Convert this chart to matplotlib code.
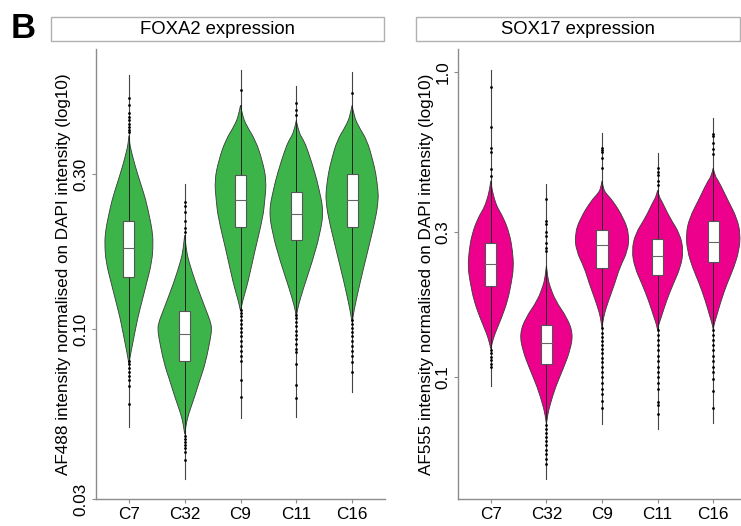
import numpy as np
import matplotlib.pyplot as plt
from matplotlib.patches import Rectangle, PathPatch
from matplotlib.path import Path

plt.rcParams['font.family'] = ['Liberation Sans', 'DejaVu Sans']

groups = ['C7', 'C32', 'C9', 'C11', 'C16']

# === FOXA2 (AF488) summary values ===
foxa2_lo = [0.050, 0.0346, 0.0532, 0.0536, 0.064]
foxa2_hi = [0.609, 0.281, 0.631, 0.563, 0.618]
foxa2_q1 = [0.145, 0.080, 0.206, 0.189, 0.206]
foxa2_med = [0.178, 0.097, 0.251, 0.226, 0.251]
foxa2_q3 = [0.215, 0.114, 0.298, 0.264, 0.300]

# violin outline: intensity levels and relative density at each level
foxa2_levels = {
    'C7': [0.395, 0.372, 0.356, 0.320, 0.281, 0.250, 0.221, 0.202, 0.184, 0.161, 0.139, 0.123, 0.109, 0.098, 0.088, 0.082, 0.078],
    'C32': [0.195, 0.175, 0.163, 0.139, 0.114, 0.104, 0.099, 0.0945, 0.0786, 0.0697, 0.0618, 0.0551, 0.051, 0.0475],
    'C9': [0.49, 0.455, 0.424, 0.382, 0.331, 0.287, 0.250, 0.221, 0.175, 0.139, 0.124, 0.118, 0.114],
    'C11': [0.44, 0.405, 0.382, 0.356, 0.302, 0.273, 0.232, 0.197, 0.163, 0.132, 0.1185, 0.113, 0.109],
    'C16': [0.49, 0.455, 0.424, 0.382, 0.331, 0.302, 0.268, 0.250, 0.221, 0.175, 0.139, 0.1185, 0.110, 0.105],
}
foxa2_density = {
    'C7': [0, 0.03, 0.08, 0.22, 0.43, 0.62, 0.76, 0.85, 0.89, 0.84, 0.65, 0.49, 0.33, 0.22, 0.11, 0.04, 0],
    'C32': [0, 0.06, 0.14, 0.40, 0.79, 0.97, 0.98, 0.95, 0.76, 0.55, 0.36, 0.15, 0.05, 0],
    'C9': [0, 0.07, 0.22, 0.55, 0.80, 0.95, 0.89, 0.82, 0.53, 0.27, 0.10, 0.04, 0],
    'C11': [0, 0.08, 0.27, 0.42, 0.69, 0.82, 1.0, 0.87, 0.60, 0.24, 0.08, 0.03, 0],
    'C16': [0, 0.07, 0.22, 0.55, 0.76, 0.87, 0.95, 0.96, 0.87, 0.58, 0.29, 0.11, 0.04, 0],
}
foxa2_outliers = {
    'C7': [0.517, 0.489, 0.463, 0.45, 0.44, 0.43, 0.42, 0.41, 0.404,
           0.080, 0.078, 0.076, 0.074, 0.072, 0.070, 0.067, 0.059],
    'C32': [0.246, 0.24, 0.23, 0.215, 0.205, 0.199, 0.047, 0.046, 0.045, 0.044, 0.043, 0.042, 0.0395],
    'C9': [0.544, 0.115, 0.112, 0.11, 0.107, 0.104, 0.101, 0.098, 0.095, 0.092, 0.089, 0.086,
           0.083, 0.080, 0.0697, 0.0618],
    'C11': [0.496, 0.475, 0.456, 0.111, 0.108, 0.105, 0.102, 0.099, 0.096, 0.093, 0.090, 0.087,
            0.085, 0.078, 0.0672, 0.0613],
    'C16': [0.536, 0.107, 0.104, 0.101, 0.098, 0.095, 0.092, 0.089, 0.086, 0.083, 0.079, 0.0737],
}

# === SOX17 (AF555) summary values ===
sox17_lo = [0.0935, 0.0464, 0.0702, 0.0676, 0.0708]
sox17_hi = [1.015, 0.4305, 0.632, 0.544, 0.707]
sox17_q1 = [0.200, 0.111, 0.229, 0.217, 0.238]
sox17_med = [0.236, 0.130, 0.272, 0.249, 0.278]
sox17_q3 = [0.276, 0.148, 0.305, 0.285, 0.326]

sox17_levels = {
    'C7': [0.44, 0.409, 0.38, 0.359, 0.333, 0.2955, 0.260, 0.229, 0.203, 0.1785, 0.157, 0.139, 0.13, 0.124],
    'C32': [0.232, 0.212, 0.200, 0.1785, 0.157, 0.139, 0.1225, 0.108, 0.0928, 0.0822, 0.076, 0.0705],
    'C9': [0.44, 0.415, 0.400, 0.379, 0.333, 0.2955, 0.260, 0.229, 0.203, 0.1785, 0.162, 0.152, 0.145],
    'C11': [0.41, 0.39, 0.379, 0.333, 0.2955, 0.260, 0.229, 0.203, 0.1785, 0.157, 0.149, 0.143],
    'C16': [0.485, 0.455, 0.44, 0.379, 0.333, 0.2955, 0.260, 0.229, 0.203, 0.1785, 0.157, 0.150, 0.144],
}
sox17_density = {
    'C7': [0, 0.05, 0.15, 0.25, 0.47, 0.69, 0.80, 0.84, 0.75, 0.62, 0.40, 0.15, 0.05, 0],
    'C32': [0, 0.05, 0.12, 0.33, 0.76, 0.98, 0.87, 0.64, 0.33, 0.15, 0.05, 0],
    'C9': [0, 0.05, 0.15, 0.40, 0.79, 1.0, 0.95, 0.65, 0.47, 0.24, 0.09, 0.03, 0],
    'C11': [0, 0.06, 0.15, 0.45, 0.82, 0.95, 0.84, 0.58, 0.33, 0.13, 0.04, 0],
    'C16': [0, 0.07, 0.2, 0.55, 0.87, 1.0, 0.95, 0.76, 0.51, 0.29, 0.11, 0.04, 0],
}
sox17_outliers = {
    'C7': [0.893, 0.661, 0.565, 0.548, 0.482, 0.457, 0.123, 0.12, 0.117, 0.114, 0.111, 0.108],
    'C32': [0.385, 0.326, 0.318, 0.30, 0.29, 0.275, 0.265, 0.26,
            0.07, 0.068, 0.066, 0.064, 0.062, 0.06, 0.058, 0.056, 0.054, 0.052],
    'C9': [0.565, 0.555, 0.548, 0.524, 0.486, 0.145, 0.14, 0.136, 0.132, 0.128, 0.124, 0.12,
           0.116, 0.112, 0.108, 0.104, 0.1, 0.096, 0.092, 0.088, 0.084, 0.0792],
    'C11': [0.486, 0.47, 0.46, 0.44, 0.427, 0.143, 0.138, 0.133, 0.128, 0.123, 0.118, 0.113,
            0.108, 0.104, 0.1, 0.096, 0.092, 0.083, 0.081, 0.0757],
    'C16': [0.627, 0.618, 0.586, 0.56, 0.54, 0.143, 0.138, 0.133, 0.128, 0.123, 0.118, 0.113,
            0.108, 0.104, 0.099, 0.09, 0.0792],
}

VW = 0.49   # max violin half-width
BW = 0.10   # box half-width
spine_col = '#8c8c8c'
FS = 12.3


def smooth_side(xs, ys):
    # quadratic bezier through midpoints, knots used as control points
    verts = [(xs[0], ys[0])]
    codes = []
    n = len(xs)
    for k in range(1, n - 1):
        if k < n - 2:
            end = ((xs[k] + xs[k + 1]) / 2, np.sqrt(ys[k] * ys[k + 1]))
        else:
            end = (xs[-1], ys[-1])
        verts += [(xs[k], ys[k]), end]
        codes += [Path.CURVE3, Path.CURVE3]
    return verts, codes


def violin_path(x, yv, d):
    rv, rc = smooth_side(x + d, yv)
    lv, lc = smooth_side((x - d)[::-1], yv[::-1])
    verts = rv + lv + [rv[0]]
    codes = [Path.MOVETO] + rc + [Path.LINETO] + lc + [Path.CLOSEPOLY]
    return Path(verts, codes)


def draw_panel(ax, color, lo, hi, q1, med, q3, levels, density, outliers):
    for i, g in enumerate(groups):
        x = i + 1
        yv = np.array(levels[g])
        d = np.array(density[g]) * VW
        # whisker / range line
        ax.plot([x, x], [lo[i], hi[i]], color='#444444', lw=0.8, zorder=1)
        ax.add_patch(PathPatch(violin_path(x, yv, d), facecolor=color, edgecolor='#3a3a3a',
                               lw=0.6, zorder=2))
        ax.plot([x, x], [yv.min(), yv.max()], color='#222222', lw=0.7, zorder=3)
        ax.add_patch(Rectangle((x - BW, q1[i]), 2 * BW, q3[i] - q1[i], facecolor='white',
                               edgecolor='#555555', lw=0.8, zorder=4))
        ax.plot([x - BW, x + BW], [med[i], med[i]], color='#666666', lw=0.8, zorder=5)
        ax.plot([x] * len(outliers[g]), outliers[g], 'o', color='black', ms=2.0,
                mew=0, zorder=6)
    ax.set_yscale('log')
    ax.set_xticks(range(1, 6))
    ax.set_xticklabels(groups)
    for s in ['top', 'right']:
        ax.spines[s].set_visible(False)
    for s in ['left', 'bottom']:
        ax.spines[s].set_color(spine_col)
        ax.spines[s].set_linewidth(1.0)
    ax.tick_params(axis='both', colors=spine_col, labelcolor='black', length=3, width=0.8,
                   labelsize=FS, pad=2.5)
    ax.minorticks_off()


fig = plt.figure(figsize=(7.41, 5.26), dpi=100)

ax1 = fig.add_axes([96 / 741, 1 - 499 / 526, 289 / 741, 450 / 526])
draw_panel(ax1, '#3cb44a', foxa2_lo, foxa2_hi, foxa2_q1, foxa2_med, foxa2_q3,
           foxa2_levels, foxa2_density, foxa2_outliers)
ax1.set_xlim(0.41, 5.59)
ax1.set_ylim(0.03, 0.73)
ax1.set_yticks([0.03, 0.10, 0.30])
ax1.set_yticklabels(['0.03', '0.10', '0.30'], rotation=90, va='center')
ax1.set_ylabel('AF488 intensity normalised on DAPI intensity (log10)', fontsize=FS)
ax1.yaxis.set_label_coords(-0.087, 0.5)

ax2 = fig.add_axes([458 / 741, 1 - 499 / 526, 283 / 741, 450 / 526])
draw_panel(ax2, '#ec008c', sox17_lo, sox17_hi, sox17_q1, sox17_med, sox17_q3,
           sox17_levels, sox17_density, sox17_outliers)
ax2.set_xlim(0.41, 5.5)
ax2.set_ylim(0.04, 1.19)
ax2.set_yticks([0.1, 0.3, 1.0])
ax2.set_yticklabels(['0.1', '0.3', '1.0'], rotation=90, va='center')
ax2.set_ylabel('AF555 intensity normalised on DAPI intensity (log10)', fontsize=FS)
ax2.yaxis.set_label_coords(-0.085, 0.5)

# strip headers
for x0, x1, label in [(51, 384, 'FOXA2 expression'), (416, 740, 'SOX17 expression')]:
    fig.patches.append(Rectangle((x0 / 741, 1 - 41 / 526), (x1 - x0) / 741, 24 / 526,
                                 transform=fig.transFigure, facecolor='white',
                                 edgecolor='#b0b0b0', lw=1.0))
    fig.text((x0 + x1) / 2 / 741, 1 - 29 / 526, label, ha='center', va='center', fontsize=13.3)

fig.text(11 / 741, 1 - 28 / 526, 'B', fontsize=25, fontweight='bold', ha='left', va='center')

fig.savefig('out.png', dpi=100)
